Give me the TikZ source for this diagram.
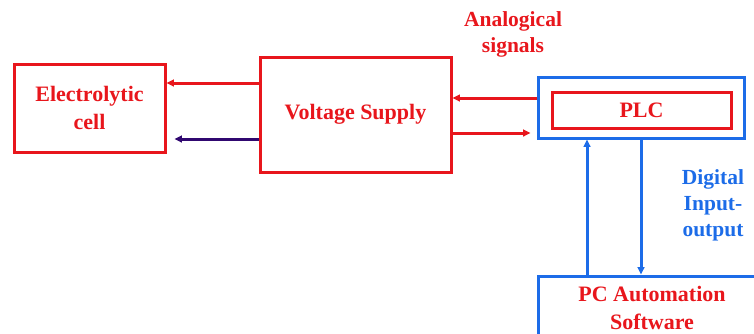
\documentclass[tikz,border=0pt]{standalone}
\usepackage{fontspec}
\setmainfont{Liberation Serif}
\usepackage{tikz}
\usetikzlibrary{arrows.meta,positioning}
\definecolor{boxred}{RGB}{232,22,28}
\definecolor{boxblue}{RGB}{28,108,232}
\definecolor{powerviolet}{RGB}{48,8,112}

\begin{document}
\begin{tikzpicture}[
  x=1pt,y=-1pt,
  block/.style={draw=boxred,line width=3pt,align=center,inner sep=0pt,text=boxred,font=\fontsize{22}{28}\selectfont\bfseries},
  blueblock/.style={block,draw=boxblue},
  sig/.style={-{Triangle[length=2.6mm,width=2.4mm]},line width=3pt,boxred},
  power/.style={sig,powerviolet},
  link/.style={sig,boxblue},
  edge label/.style={align=center,font=\fontsize{21.5}{26}\selectfont\bfseries}
]
\useasboundingbox (0,0) rectangle (754,333);
\node[block,minimum width=151pt,minimum height=88pt] (cell) at (89.5,108) {Electrolytic\\cell};
\node[block,minimum width=191pt,minimum height=115pt] (vs) at (355.5,114.5) {Voltage Supply};
\node[blueblock,minimum width=206pt,minimum height=61pt] (plcbox) at (641,107.5) {};
\node[block,minimum width=179pt,minimum height=36pt] (plc) at (641.5,110) {PLC};
\node[blueblock,minimum width=228pt,minimum height=63pt] (pc) at (652,307.5) {PC Automation\\Software};
\draw[sig] ([yshift=25pt]cell.east -| vs.west) -- ([yshift=25pt]cell.east);
\draw[power,shorten >=8pt] ([yshift=-31pt]cell.east -| vs.west) -- ([yshift=-31pt]cell.east);
\draw[sig] ([yshift=9.5pt]plcbox.west) -- ([yshift=9.5pt]plcbox.west -| vs.east);
\draw[sig,shorten >=6pt] ([yshift=-25.5pt]plcbox.west -| vs.east) -- ([yshift=-25.5pt]plcbox.west);
\node[edge label,text=boxred] (analog) at (513,34) {Analogical\\signals};
\draw[link] (plcbox.south) -- (plcbox.south |- pc.north);
\draw[link] ([xshift=-54pt]plcbox.south |- pc.north) -- ([xshift=-54pt]plcbox.south);
\node[edge label,text=boxblue] (digital) at (713,205) {Digital\\Input-\\output};
\end{tikzpicture}
\end{document}
